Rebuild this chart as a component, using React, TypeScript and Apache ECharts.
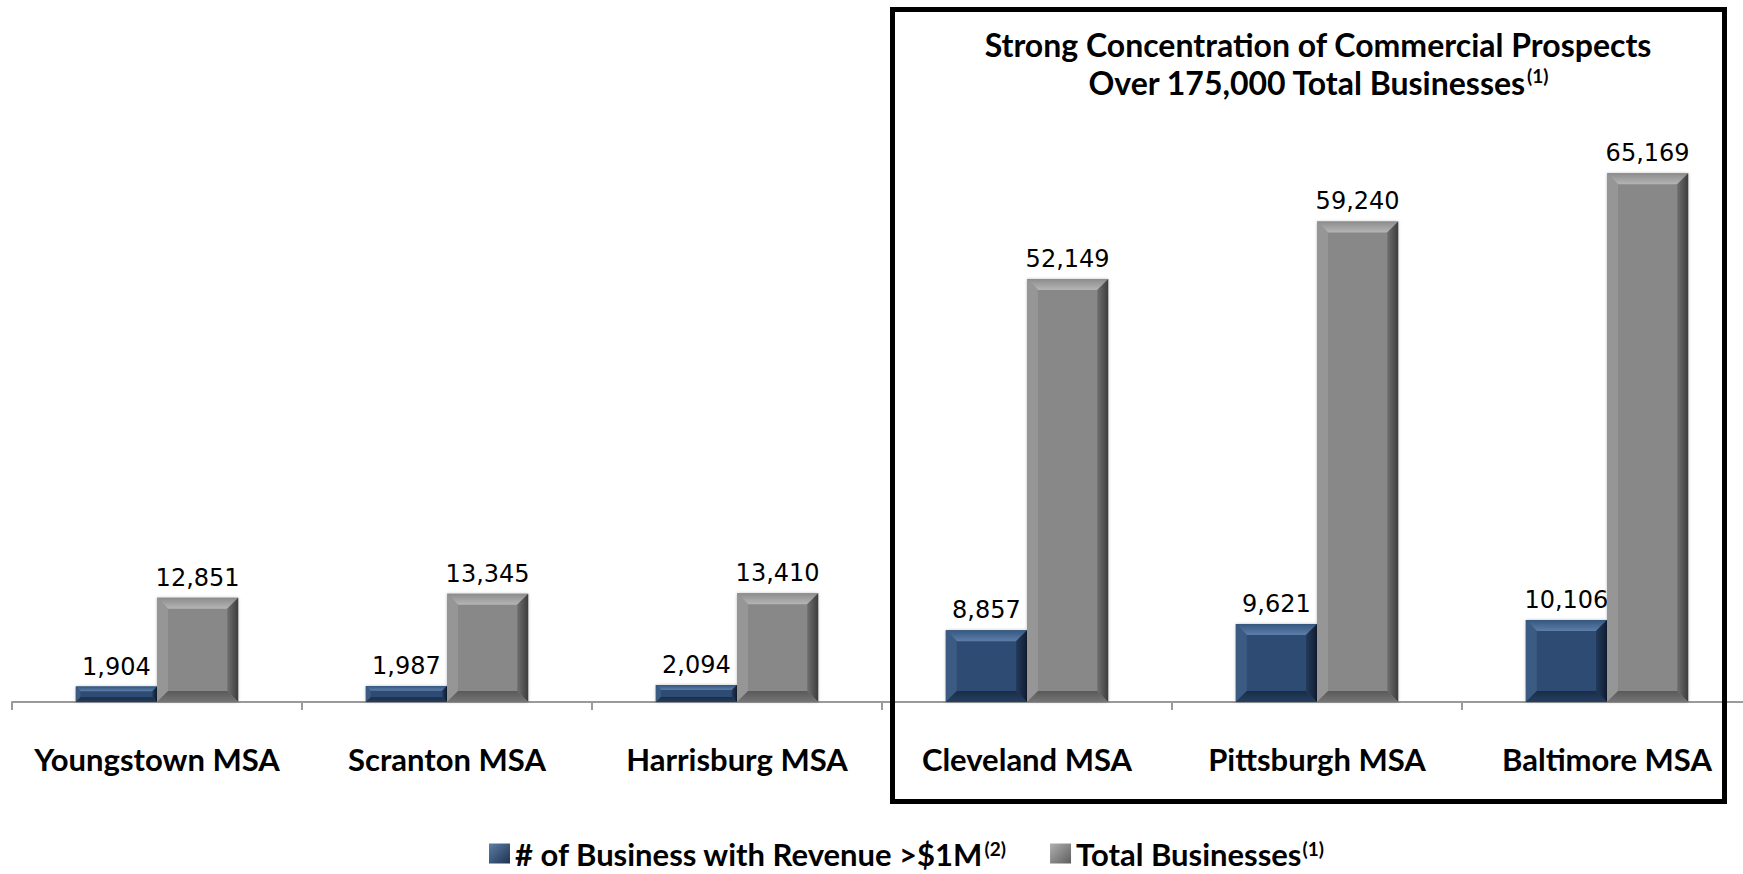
import React, { useEffect, useRef } from "react";
import * as echarts from "echarts";

// Metro areas and business counts
const categories = [
  "Youngstown MSA",
  "Scranton MSA",
  "Harrisburg MSA",
  "Cleveland MSA",
  "Pittsburgh MSA",
  "Baltimore MSA",
];
const revenueOver1M = [1904, 1987, 2094, 8857, 9621, 10106];
const totalBusinesses = [12851, 13345, 13410, 52149, 59240, 65169];

const seriesNames = ["# of Business with Revenue >$1M", "Total Businesses"];
const seriesNotes = ["(2)", "(1)"];
const titleLines = [
  "Strong Concentration of Commercial Prospects",
  "Over 175,000 Total Businesses",
];
const titleNote = "(1)";

const BOLD_FONT = "Lato";
const LABEL_FONT = "DejaVu Sans";

type Palette = {
  face: string;
  top: [string, string];
  left: string;
  right: [string, string];
  bottom: [string, string];
  legend: [string, string];
};

const bluePalette: Palette = {
  face: "#2e4c73",
  top: ["#35567f", "#5d7ea8"],
  left: "#3b5b83",
  right: ["#243b5c", "#101d30"],
  bottom: ["#253f61", "#1a2d47"],
  legend: ["#5d7ea8", "#1d3250"],
};

const grayPalette: Palette = {
  face: "#888888",
  top: ["#8c8c8c", "#b5b5b5"],
  left: "#969696",
  right: ["#707070", "#3c3c3c"],
  bottom: ["#757575", "#5a5a5a"],
  legend: ["#b0b0b0", "#5e5e5e"],
};

const lin = (x: number, y: number, x2: number, y2: number, c: [string, string]) =>
  new echarts.graphic.LinearGradient(x, y, x2, y2, [
    { offset: 0, color: c[0] },
    { offset: 1, color: c[1] },
  ]);

// Bevelled bar drawn from the axis scale: side -1 = left bar of the pair, +1 = right bar
const makeRenderItem = (pal: Palette, side: number) => (params: any, api: any) => {
  const i = api.value(0);
  const v = api.value(1);
  const base = api.coord([i, 0]);
  const tip = api.coord([i, v]);
  const band = api.size([1, 0])[0];
  const w = band * 0.28;
  const cx = base[0] + (side * w) / 2;
  const x0 = cx - w / 2;
  const x1 = cx + w / 2;
  const y0 = tip[1];
  const y1 = base[1];
  const h = y1 - y0;
  const b = Math.min(11, h * 0.3);

  return {
    type: "group",
    children: [
      {
        type: "rect",
        shape: { x: x0, y: y0, width: w, height: h },
        style: { fill: pal.face, shadowBlur: 3, shadowColor: "rgba(0,0,0,0.25)" },
      },
      {
        type: "polygon",
        shape: { points: [[x0, y0], [x1, y0], [x1 - b, y0 + b], [x0 + b, y0 + b]] },
        style: { fill: lin(0, 0, 0, 1, pal.top) },
      },
      {
        type: "polygon",
        shape: { points: [[x0, y0], [x0 + b, y0 + b], [x0 + b, y1 - b], [x0, y1]] },
        style: { fill: pal.left },
      },
      {
        type: "polygon",
        shape: { points: [[x1, y0], [x1, y1], [x1 - b, y1 - b], [x1 - b, y0 + b]] },
        style: { fill: lin(0, 0, 1, 0, pal.right) },
      },
      {
        type: "polygon",
        shape: { points: [[x0, y1], [x1, y1], [x1 - b, y1 - b], [x0 + b, y1 - b]] },
        style: { fill: lin(0, 1, 0, 0, pal.bottom) },
      },
      {
        type: "text",
        x: cx,
        y: y0 - 8,
        style: {
          text: Number(v).toLocaleString("en-US"),
          fill: "#000000",
          font: `24px "${LABEL_FONT}"`,
          align: "center",
          verticalAlign: "bottom",
          textAlign: "center",
          textVerticalAlign: "bottom",
        },
      },
    ],
  };
};

export default function App() {
  const ref = useRef<HTMLDivElement>(null);

  useEffect(() => {
    if (!ref.current) return;
    const chart = echarts.init(ref.current, null, { renderer: "svg" });

    const supStyle = {
      fontFamily: BOLD_FONT,
      fontWeight: "bold",
      fontSize: 19,
      lineHeight: 19,
      color: "#000",
      fill: "#000",
      verticalAlign: "top",
      padding: [0, 0, 10, 1],
    };

    chart.setOption({
      animation: false,
      backgroundColor: "#ffffff",
      // the last category runs past the visible right edge
      grid: { left: 12, top: 53, width: 1740, height: 649, containLabel: false },
      xAxis: {
        type: "category",
        data: categories,
        boundaryGap: true,
        axisLine: { show: true, lineStyle: { color: "#9a9a9a", width: 2 } },
        axisTick: { show: true, length: 8, lineStyle: { color: "#9a9a9a", width: 2 } },
        axisLabel: {
          margin: 41,
          color: "#000",
          fontFamily: BOLD_FONT,
          fontWeight: "bold",
          fontSize: 31,
          interval: 0,
        },
        splitLine: { show: false },
      },
      yAxis: { type: "value", min: 0, max: 80000, show: false, splitLine: { show: false } },
      legend: {
        left: 484,
        top: 833,
        itemWidth: 21,
        itemHeight: 20,
        itemGap: 44,
        icon: "rect",
        data: [
          { name: seriesNames[0], itemStyle: { color: lin(0, 0, 1, 1, bluePalette.legend) } },
          { name: seriesNames[1], itemStyle: { color: lin(0, 0, 1, 1, grayPalette.legend) } },
        ],
        formatter: (name: string) => {
          const k = seriesNames.indexOf(name);
          return `{n|${name}}{s|${seriesNotes[k]}}`;
        },
        textStyle: {
          rich: {
            n: {
              fontFamily: BOLD_FONT,
              fontWeight: "bold",
              fontSize: 31,
              lineHeight: 30,
              color: "#000",
            },
            s: supStyle,
          },
        },
        selectedMode: false,
      },
      series: [
        {
          name: seriesNames[0],
          type: "custom",
          itemStyle: { color: bluePalette.face },
          encode: { x: 0, y: 1 },
          data: revenueOver1M.map((v, i) => [i, v]),
          renderItem: makeRenderItem(bluePalette, -1),
        },
        {
          name: seriesNames[1],
          type: "custom",
          itemStyle: { color: grayPalette.face },
          encode: { x: 0, y: 1 },
          data: totalBusinesses.map((v, i) => [i, v]),
          renderItem: makeRenderItem(grayPalette, 1),
        },
      ],
      graphic: [
        {
          type: "rect",
          z: 100,
          shape: { x: 892.5, y: 9.5, width: 832, height: 792 },
          style: { fill: "none", stroke: "#000000", lineWidth: 5 },
        },
        {
          type: "text",
          z: 100,
          x: 1318,
          y: 44,
          style: {
            text: titleLines[0],
            font: `bold 32px "${BOLD_FONT}"`,
            fill: "#000",
            align: "center",
            verticalAlign: "middle",
            textAlign: "center",
            textVerticalAlign: "middle",
          },
        },
        {
          type: "text",
          z: 100,
          x: 1318,
          y: 82,
          style: {
            text: `{n|${titleLines[1]}}{s|${titleNote}}`,
            rich: {
              n: { fontFamily: BOLD_FONT, fontWeight: "bold", fontSize: 32, fill: "#000" },
              s: supStyle,
            },
            align: "center",
            verticalAlign: "middle",
            textAlign: "center",
            textVerticalAlign: "middle",
          },
        },
      ],
    });

    return () => chart.dispose();
  }, []);

  return (
    <div
      style={{
        position: "fixed",
        left: 0,
        top: 0,
        width: 1743,
        height: 874,
        overflow: "hidden",
        background: "#fff",
      }}
    >
      <div ref={ref} style={{ width: 1760, height: 874 }} />
    </div>
  );
}
